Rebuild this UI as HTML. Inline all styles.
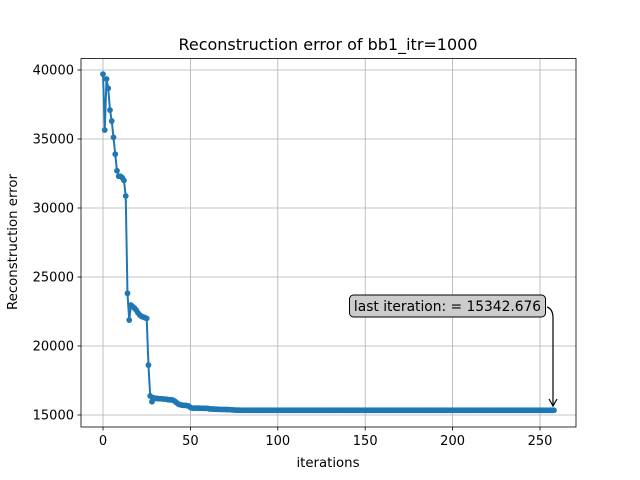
<!DOCTYPE html>
<html><head><meta charset="utf-8"><style>
body{margin:0;background:#fff}
svg{display:block;font-family:"DejaVu Sans","Liberation Sans",sans-serif}
</style></head><body>
<svg id="chart" width="640" height="480" xmlns="http://www.w3.org/2000/svg">
<rect width="640" height="480" fill="#fff"/>
<text x="328" y="50" text-anchor="middle" font-size="16">Reconstruction error of bb1_itr=1000</text>
<g id="grid"></g><g id="ticks"></g><g id="series"></g>
<rect x="81" y="58.5" width="495" height="368.5" fill="none" stroke="#000" stroke-width="0.8"/>
<text x="328" y="467" text-anchor="middle" font-size="13.3">iterations</text>
<text transform="translate(17,242) rotate(-90)" text-anchor="middle" font-size="13.3">Reconstruction error</text>
<g>
<path d="M547,307 Q553,309 553,318 L553,405" fill="none" stroke="#000" stroke-width="1.2"/>
<path d="M549,399 L553,406 L557,399" fill="none" stroke="#000" stroke-width="1.2"/>
<rect x="349.5" y="295" width="196" height="22" rx="4" fill="#cccccc" stroke="#000" stroke-width="1"/>
<text x="447.5" y="311" text-anchor="middle" font-size="13.8">last iteration: = 15342.676</text>
</g>
</svg>
<script>
const xTicks=[0,50,100,150,200,250];
const yTicks=[15000,20000,25000,30000,35000,40000];
const headValues=[39700,35650,39350,38670,37100,36300,35120,33900,32700,32300,32300,32200,32000,30870,23820,21880,22970,22850,22750,22600,22400,22250,22150,22100,22050,22000,18620,16380,15960,16250,16200,16200,16180,16180,16170,16150,16150,16120,16100,16100,16080,16000,15900,15800,15750,15720,15700,15700,15680,15650,15550,15500,15500,15500,15500,15495,15490,15490,15485,15480,15480,15440,15440,15430,15420,15420,15410,15410,15400,15400,15400,15395,15390,15380,15370,15360,15355,15350,15348,15345,15344];
const tailValues=[
15343,15343,15343,15343,15343,15343,15343,15343,15343,15343,
15343,15343,15343,15343,15343,15343,15343,15343,15343,15343,
15343,15343,15343,15343,15343,15343,15343,15343,15343,15343,
15343,15343,15343,15343,15343,15343,15343,15343,15343,15343,
15343,15343,15343,15343,15343,15343,15343,15343,15343,15343,
15343,15343,15343,15343,15343,15343,15343,15343,15343,15343,
15343,15343,15343,15343,15343,15343,15343,15343,15343,15343,
15343,15343,15343,15343,15343,15343,15343,15343,15343,15343,
15343,15343,15343,15343,15343,15343,15343,15343,15343,15343,
15343,15343,15343,15343,15343,15343,15343,15343,15343,15343,
15343,15343,15343,15343,15343,15343,15343,15343,15343,15343,
15343,15343,15343,15343,15343,15343,15343,15343,15343,15343,
15343,15343,15343,15343,15343,15343,15343,15343,15343,15343,
15343,15343,15343,15343,15343,15343,15343,15343,15343,15343,
15343,15343,15343,15343,15343,15343,15343,15343,15343,15343,
15343,15343,15343,15343,15343,15343,15343,15343,15343,15343,
15343,15343,15343,15343,15343,15343,15343,15343,15343,15343,
15343,15343,15343,15343,15343,15343,15343,
15342.676];
const values=headValues.concat(tailValues);
const NS="http://www.w3.org/2000/svg";
function xs(v){return 103+v*(437/250);}
function ys(v){return 70+(40000-v)*(345/25000);}
function mk(tag,attrs,parent){const e=document.createElementNS(NS,tag);for(const k in attrs)e.setAttribute(k,attrs[k]);parent.appendChild(e);return e;}
const grid=document.getElementById('grid'),ticks=document.getElementById('ticks'),series=document.getElementById('series');
xTicks.forEach(t=>{const x=xs(t);
 const g=mk('line',{x1:x,x2:x,y1:58.5,y2:427,stroke:'#b0b0b0','stroke-width':0.8},grid);
 
 
 mk('line',{x1:x,x2:x,y1:427,y2:430.5,stroke:'#000','stroke-width':0.8},ticks);
 const l=mk('text',{x:x,y:445,'text-anchor':'middle','font-size':13},ticks);l.textContent=t;
 
 
});
yTicks.forEach(t=>{const y=ys(t);
 const g=mk('line',{x1:81,x2:576,y1:y,y2:y,stroke:'#b0b0b0','stroke-width':0.8},grid);
 
 
 mk('line',{x1:77.5,x2:81,y1:y,y2:y,stroke:'#000','stroke-width':0.8},ticks);
 const l=mk('text',{x:74,y:y+4.6,'text-anchor':'end','font-size':13},ticks);l.textContent=t;
 
 
});
const pts=values.map((v,i)=>xs(i).toFixed(2)+','+ys(v).toFixed(2)).join(' ');
const line=mk('polyline',{points:pts,fill:'none',stroke:'#1f77b4','stroke-width':2,'stroke-linejoin':'round'},series);


values.forEach((v,i)=>{const c=mk('circle',{cx:xs(i),cy:ys(v),r:2.9,fill:'#1f77b4'},series);
 
 
});
</script>
</body></html>
